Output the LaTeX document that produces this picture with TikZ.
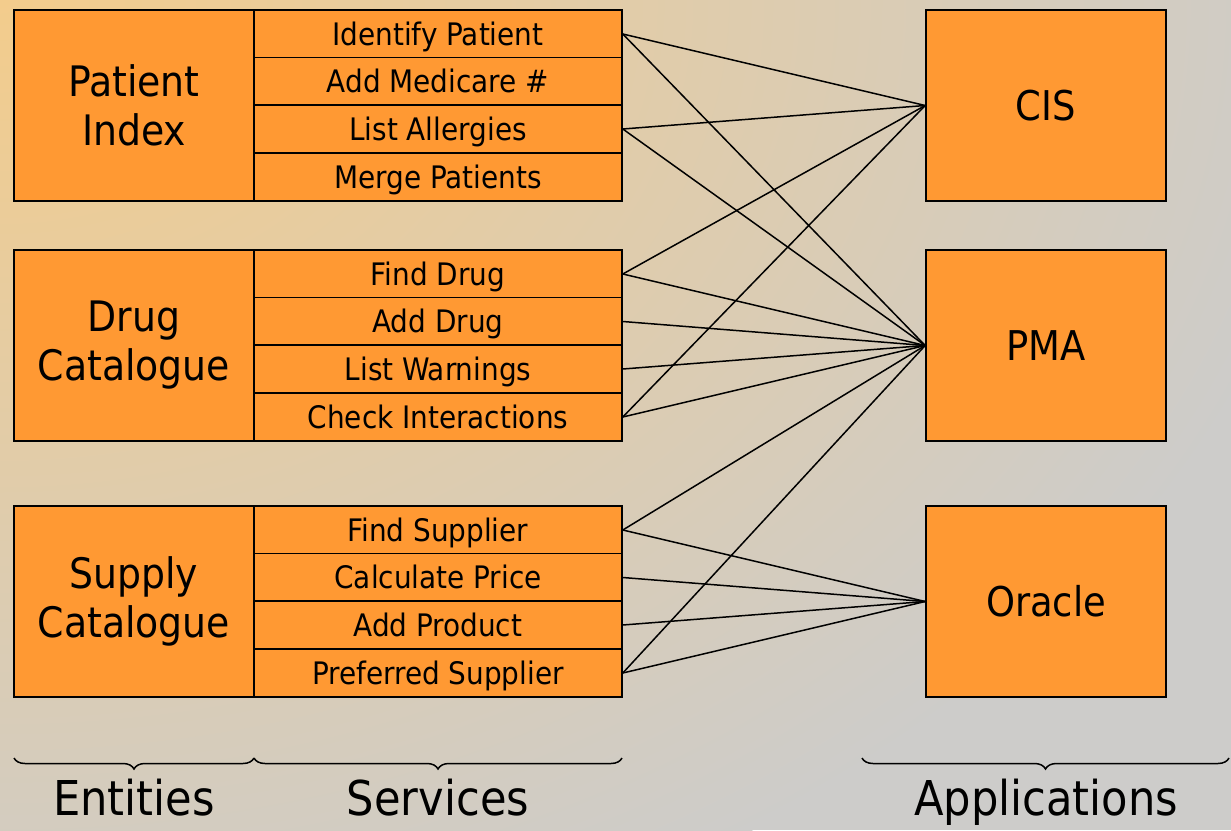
\documentclass[tikz,border=0pt]{standalone}
\usepackage{fontspec}
\setmainfont{DejaVu Sans Condensed}
\usetikzlibrary{decorations.pathreplacing}
\definecolor{boxorange}{RGB}{255,153,51}
\definecolor{bggray}{RGB}{205,204,202}
\definecolor{bgorange}{RGB}{243,204,140}
\tikzset{
  entbox/.style={draw=black, line width=1.6pt, fill=boxorange, minimum width=240pt, minimum height=191pt, inner sep=0pt, align=center, font=\fontsize{42}{49}\selectfont},
  svcbox/.style={draw=black, line width=1.6pt, fill=boxorange, minimum width=368pt, minimum height=48pt, inner sep=0pt, text height=22pt, text depth=0pt, font=\fontsize{31}{34}\selectfont},
  appbox/.style={draw=black, line width=1.6pt, fill=boxorange, minimum width=240pt, minimum height=191pt, inner sep=0pt, font=\fontsize{41}{46}\selectfont},
  link/.style={draw=black, line width=1.5pt},
  grpbrace/.style={decorate, decoration={brace, mirror, amplitude=11pt}, line width=1.5pt},
  grplabel/.style={font=\fontsize{48}{52}\selectfont, anchor=base, inner sep=0pt}
}
\begin{document}
\begin{tikzpicture}[x=1pt, y=-1pt]
\useasboundingbox (0,0) rectangle (1231,830);
\fill[bggray] (0,0) rectangle (1231,830);
\begin{scope}
\clip (0,0) rectangle (1231,830);
\shade[inner color=bgorange, outer color=bggray] (0,0) ellipse [x radius=1350, y radius=1000];
\end{scope}

% entities
\node[entbox] (pi) at (134,105.5) {Patient\\Index};
\node[entbox] (dc) at (134,345.5) {Drug\\Catalogue};
\node[entbox] (sc) at (134,601.5) {Supply\\Catalogue};

% services
\node[svcbox] (s1) at (438,34) {Identify Patient};
\node[svcbox] (s2) at (438,81.5) {Add Medicare \#};
\node[svcbox] (s3) at (438,129) {List Allergies};
\node[svcbox] (s4) at (438,177) {Merge Patients};
\node[svcbox] (s5) at (438,274) {Find Drug};
\node[svcbox] (s6) at (438,321.5) {Add Drug};
\node[svcbox] (s7) at (438,369) {List Warnings};
\node[svcbox] (s8) at (438,417) {Check Interactions};
\node[svcbox] (s9) at (438,530) {Find Supplier};
\node[svcbox] (s10) at (438,577.5) {Calculate Price};
\node[svcbox] (s11) at (438,625) {Add Product};
\node[svcbox] (s12) at (438,673) {Preferred Supplier};

% applications
\node[appbox] (cis) at (1046,105.5) {CIS};
\node[appbox] (pma) at (1046,345.5) {PMA};
\node[appbox] (ora) at (1046,601.5) {Oracle};

% links
\foreach \s/\a in {s1/cis, s1/pma, s3/cis, s3/pma, s5/cis, s5/pma, s6/pma, s7/pma, s8/cis, s8/pma, s9/pma, s9/ora, s10/ora, s11/ora, s12/pma, s12/ora}
  \draw[link] (\s.east) -- (\a.west);

% braces
\coordinate (b1) at (14,758);
\coordinate (b2) at (254,758);
\coordinate (b3) at (622,758);
\coordinate (b4) at (862,758);
\coordinate (b5) at (1229,758);
\draw[grpbrace] (b1) -- (b2);
\draw[grpbrace] (b2) -- (b3);
\draw[grpbrace] (b4) -- (b5);
\node[grplabel] (lent) at (134,815) {Entities};
\node[grplabel] (lsvc) at (438,815) {Services};
\node[grplabel] (lapp) at (1046,815) {Applications};
\end{tikzpicture}
\end{document}
